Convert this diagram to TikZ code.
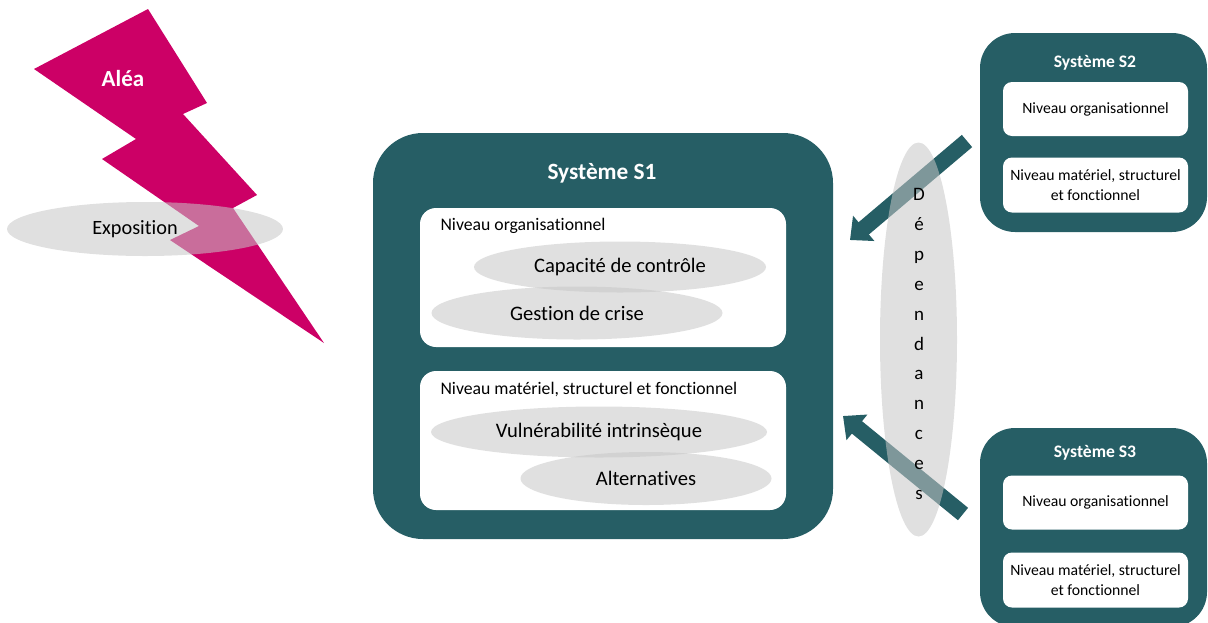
\documentclass[tikz,border=0pt]{standalone}
\usepackage{fontspec}
\setmainfont{Carlito}[Ligatures=NoCommon]
\usepackage{tikz}
\usetikzlibrary{arrows.meta,shapes.geometric}

\definecolor{sysgreen}{RGB}{38,94,101}
\definecolor{aleared}{RGB}{204,0,102}
\definecolor{veil}{RGB}{199,199,199}

\begin{document}
\begin{tikzpicture}[x=1pt,y=-1pt,
  sysbox/.style={fill=sysgreen,rounded corners=#1,inner sep=0pt},
  sysbox/.default=35pt,
  levelbox/.style={fill=white,rounded corners=#1,inner sep=0pt},
  levelbox/.default=9pt,
  systitle/.style={text=white,font=\bfseries\fontsize{#1}{#1}\selectfont},
  factor/.style={ellipse,fill=veil,fill opacity=0.55,text opacity=1,inner sep=0pt,
    font=\fontsize{20.6}{24}\selectfont},
  dependency/.style={draw=sysgreen,line width=16pt,-{Triangle[width=32pt,length=18pt]}}]
\useasboundingbox (0,0) rectangle (1208,622);
\clip (0,0) rectangle (1208,622);

% Hazard
\fill[aleared] (148,9) -- (207,103) -- (183,114) -- (257,195) -- (233,208) -- (324,343)
  -- (170,240) -- (199,226) -- (102,159) -- (136,139) -- (34,69) -- cycle;
\node[text=white,font=\bfseries\fontsize{23}{23}\selectfont] (alea) at (123,79) {Aléa};
\node[factor,minimum width=276pt,minimum height=54pt,font=\fontsize{20.3}{24}\selectfont]
  (expo) at (145,229) {Exposition\kern20pt};

% System S1
\node[sysbox=50pt,minimum width=460pt,minimum height=406pt] (S1) at (603,336) {};
\node[systitle=23.3] (S1title) at (602,173) {Système S1};
\node[levelbox=16pt,minimum width=366pt,minimum height=139pt] (S1org) at (603,277.5) {};
\node[levelbox=16pt,minimum width=366pt,minimum height=139pt] (S1mat) at (603,440.5) {};
\node[anchor=west,font=\fontsize{17.7}{20}\selectfont] (S1orglabel) at (437,226) {Niveau organisationnel};
\node[anchor=west,font=\fontsize{17.7}{20}\selectfont] (S1matlabel) at (437,389) {Niveau matériel, structurel et fonctionnel};
\node[factor,minimum width=292pt,minimum height=51pt] (control) at (620,267) {Capacité de contrôle};
\node[factor,minimum width=291pt,minimum height=53pt] (crisis) at (577,313) {Gestion de crise};
\node[factor,minimum width=336pt,minimum height=51pt] (vuln) at (599,432) {Vulnérabilité intrinsèque};
\node[factor,minimum width=251pt,minimum height=53pt] (altern) at (646,478.5) {Alternatives};

% Systems S2 and S3
\foreach \name/\num/\y/\ytitle/\yorg/\ymat in {S2/2/132.5/63/109/185,S3/3/527.5/453/502.5/580}{
  \node[sysbox,minimum width=227pt,minimum height=199pt] (\name) at (1093.5,\y) {};
  \node[systitle=17.6] (\name title) at (1095,\ytitle) {Système S\num};
  \node[levelbox,minimum width=185pt,minimum height=54pt,font=\fontsize{15.7}{20}\selectfont]
    (\name org) at (1095.5,\yorg) {Niveau organisationnel};
  \node[levelbox,minimum width=185pt,minimum height=55pt,align=center,font=\fontsize{15.7}{20}\selectfont]
    (\name mat) at (1095.5,\ymat) {Niveau matériel, structurel\\et fonctionnel};
}

% Dependencies
\coordinate (fromS2) at (967,141);
\coordinate (toS1top) at (850,240);
\coordinate (fromS3) at (963,514);
\coordinate (toS1bot) at (843,416);
\draw[dependency] (fromS2) -- (toS1top);
\draw[dependency] (fromS3) -- (toS1bot);
\node[ellipse,fill=veil,fill opacity=0.55,inner sep=0pt,minimum width=77pt,minimum height=394pt]
  (dep) at (918.5,339.5) {};
\node[align=center,inner sep=0pt,font=\fontsize{19}{29.9}\selectfont] (deplabel) at (919,344)
  {D\\é\\p\\e\\n\\d\\a\\n\\c\\e\\s};

\end{tikzpicture}
\end{document}
